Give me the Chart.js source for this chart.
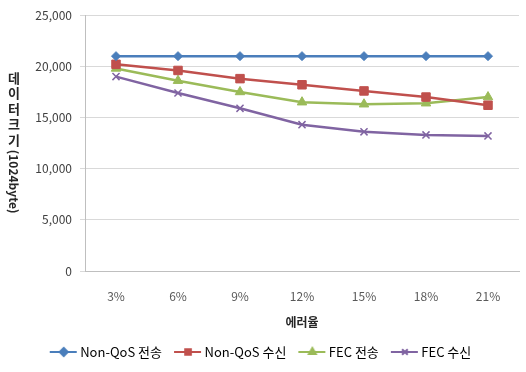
<!DOCTYPE html>
<html>
<head>
<meta charset="utf-8">
<script src="https://cdn.jsdelivr.net/npm/chart.js@4/dist/chart.umd.min.js"></script>
<style>
  html, body { margin: 0; padding: 0; background: #ffffff; }
  #wrap { width: 526px; height: 372px; }
</style>
</head>
<body>
<div id="wrap"><canvas id="chart" width="526" height="372"></canvas></div>
<script>
// Error rate categories
const errorRates = ['3%', '6%', '9%', '12%', '15%', '18%', '21%'];

// Data size (1024 byte units) per series
const nonQosSend = [21000, 21000, 21000, 21000, 21000, 21000, 21000];
const nonQosRecv = [20200, 19600, 18800, 18200, 17600, 17000, 16200];
const fecSend    = [19800, 18600, 17500, 16500, 16300, 16400, 17000];
const fecRecv    = [19000, 17400, 15900, 14300, 13600, 13300, 13200];

const seriesNames = ['Non-QoS 전송', 'Non-QoS 수신', 'FEC 전송', 'FEC 수신'];
const yTicks = [0, 5000, 10000, 15000, 20000, 25000];
const yTitleHangul = '데이터크기';
const yTitleLatin = '(1024byte)';

const FONT = '"Noto Sans CJK KR", "Noto Sans", sans-serif';
const colors = ['#4a7ebb', '#c0504d', '#9bbb59', '#8064a2'];
const markers = ['rectRot', 'rect', 'triangle', 'crossRot'];
const radii = [4.5, 6, 5.5, 5];

// Legend swatch: a short line with the series marker in the middle
function legendSwatch(color, style) {
  const c = document.createElement('canvas');
  c.width = 30; c.height = 12;
  const g = c.getContext('2d');
  g.strokeStyle = color; g.lineWidth = 2;
  g.beginPath(); g.moveTo(1, 6); g.lineTo(28, 6); g.stroke();
  g.fillStyle = color;
  Chart.helpers.drawPoint(g, { pointStyle: style, radius: 4, borderWidth: 1.5, rotation: 0 }, 15, 6);
  if (style !== 'crossRot') g.fill();
  return c;
}

// Vertical axis title: Hangul stacked upright, the Latin part turned clockwise
const verticalTitle = {
  id: 'verticalTitle',
  afterDraw(chart) {
    const ctx = chart.ctx;
    const x = 14;
    const pitch = 15.5;
    let y = 78;
    ctx.save();
    ctx.fillStyle = '#262626';
    ctx.font = 'bold 13px ' + FONT;
    ctx.textAlign = 'center';
    ctx.textBaseline = 'middle';
    for (const ch of yTitleHangul) {
      ctx.fillText(ch, x, y);
      y += pitch;
    }
    ctx.font = 'bold 12px ' + FONT;
    ctx.translate(x, y - pitch / 2 + 2);
    ctx.rotate(Math.PI / 2);
    ctx.textAlign = 'left';
    ctx.fillText(yTitleLatin, 0, 0);
    ctx.restore();
  }
};

const seriesData = [nonQosSend, nonQosRecv, fecSend, fecRecv];
const datasets = seriesData.map((d, i) => ({
  label: seriesNames[i],
  data: d,
  borderColor: colors[i],
  backgroundColor: colors[i],
  borderWidth: 2.5,
  pointStyle: markers[i],
  pointRadius: radii[i],
  pointBorderWidth: i === 3 ? 1.5 : 1,
  pointBorderColor: colors[i],
  pointBackgroundColor: colors[i],
  tension: 0
}));

new Chart(document.getElementById('chart'), {
  type: 'line',
  data: { labels: errorRates, datasets },
  plugins: [verticalTitle],
  options: {
    responsive: false,
    animation: false,
    layout: { padding: { left: 0, right: 1, top: 12, bottom: 3.5 } },
    plugins: {
      tooltip: { enabled: false },
      legend: {
        position: 'bottom',
        labels: {
          font: { family: FONT, size: 13 },
          color: '#404040',
          usePointStyle: true,
          pointStyleWidth: 20,
          boxHeight: 13,
          padding: 16,
          generateLabels(chart) {
            return chart.data.datasets.map((ds, i) => ({
              text: ds.label,
              pointStyle: legendSwatch(colors[i], markers[i]),
              fillStyle: colors[i],
              strokeStyle: colors[i],
              lineWidth: 0,
              datasetIndex: i,
              hidden: false
            }));
          }
        }
      }
    },
    scales: {
      x: {
        offset: true,
        afterFit(scale) {
          scale.height = 58.5;
          scale.paddingLeft = 0;
          scale.paddingRight = 0;
        },
        grid: { display: false },
        border: { display: true, color: '#bfbfbf', width: 1 },
        ticks: { font: { family: FONT, size: 12 }, color: '#595959', padding: 10 },
        title: {
          display: true, text: '에러율',
          font: { family: FONT, size: 12, weight: 'bold' }, color: '#262626',
          padding: { top: 0, bottom: 0 }
        }
      },
      y: {
        min: 0, max: 25000,
        afterBuildTicks(scale) { scale.ticks = yTicks.map(v => ({ value: v })); },
        afterFit(scale) { scale.width = 85; },
        grid: { color: '#d9d9d9', tickLength: 5, drawTicks: true },
        border: { display: true, color: '#bfbfbf', width: 1 },
        ticks: {
          font: { family: FONT, size: 12 }, color: '#404040', padding: 8,
          callback: v => v.toLocaleString('en-US')
        },
        title: { display: false }
      }
    }
  }
});
</script>
</body>
</html>
